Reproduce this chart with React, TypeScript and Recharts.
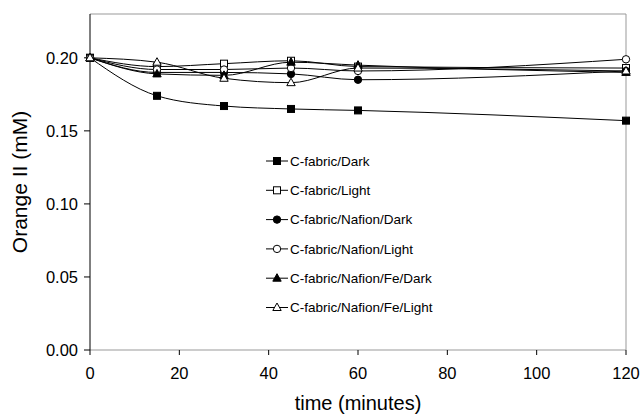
import React from "react";
import { LineChart, Line, XAxis, YAxis, ReferenceLine, Label } from "recharts";

const times = [0, 15, 30, 45, 60, 120];
const cFabricDark = [0.2, 0.174, 0.167, 0.165, 0.164, 0.157];
const cFabricLight = [0.2, 0.194, 0.196, 0.198, 0.194, 0.193];
const nafionDark = [0.2, 0.19, 0.19, 0.189, 0.185, 0.191];
const nafionLight = [0.2, 0.192, 0.192, 0.193, 0.191, 0.199];
const feDark = [0.2, 0.189, 0.188, 0.197, 0.195, 0.19];
const feLight = [0.2, 0.197, 0.186, 0.183, 0.193, 0.191];
const xTicks = [0, 20, 40, 60, 80, 100, 120];
const yTicks = [0, 0.05, 0.1, 0.15, 0.2];

const seriesNames = [
  "C-fabric/Dark",
  "C-fabric/Light",
  "C-fabric/Nafion/Dark",
  "C-fabric/Nafion/Light",
  "C-fabric/Nafion/Fe/Dark",
  "C-fabric/Nafion/Fe/Light",
];
const seriesValues = [cFabricDark, cFabricLight, nafionDark, nafionLight, feDark, feLight];
const seriesShapes = ["square", "square", "circle", "circle", "triangle", "triangle"];
const seriesFilled = [true, false, true, false, true, false];

const data = times.map((t, i) => {
  const row: any = { t };
  seriesNames.forEach((n, k) => {
    row[n] = seriesValues[k][i];
  });
  return row;
});

const FONT = "Arial, 'Liberation Sans', sans-serif";

function Marker({ cx, cy, shape, filled }: any) {
  const fill = filled ? "#000" : "#fff";
  if (shape === "square") {
    return <rect x={cx - 3.5} y={cy - 3.5} width={7} height={7} fill={fill} stroke="#000" strokeWidth={1} />;
  }
  if (shape === "circle") {
    return <circle cx={cx} cy={cy} r={3.7} fill={fill} stroke="#000" strokeWidth={1} />;
  }
  return (
    <polygon
      points={`${cx},${cy - 4.5} ${cx + 4.2},${cy + 3} ${cx - 4.2},${cy + 3}`}
      fill={fill}
      stroke="#000"
      strokeWidth={1}
    />
  );
}

const makeDot = (k: number) => (props: any) => {
  const { cx, cy, index } = props;
  if (cx == null || cy == null) return <g key={index} />;
  return (
    <g key={`${k}-${index}`}>
      <Marker cx={cx} cy={cy} shape={seriesShapes[k]} filled={seriesFilled[k]} />
    </g>
  );
};

function LegendBox() {
  const rowH = 29.3;
  return (
    <svg
      width={220}
      height={190}
      style={{ position: "absolute", left: 262, top: 150, overflow: "visible" }}
    >
      {seriesNames.map((name, k) => {
        const y = 11 + k * rowH;
        return (
          <g key={name}>
            <line x1={4} x2={26} y1={y} y2={y} stroke="#000" strokeWidth={1} />
            <Marker cx={15} cy={y} shape={seriesShapes[k]} filled={seriesFilled[k]} />
            <text x={28} y={y} dy="0.35em" fontSize={13.5} fontFamily={FONT} fill="#000">
              {name}
            </text>
          </g>
        );
      })}
    </svg>
  );
}

export default function App() {
  return (
    <div style={{ position: "absolute", left: 0, top: 0, width: 644, height: 418, background: "#fff" }}>
      <LineChart
        width={644}
        height={418}
        data={data}
        margin={{ top: 14, right: 18, bottom: 0, left: 0 }}
      >
        <XAxis
          dataKey="t"
          type="number"
          domain={[0, 120]}
          ticks={xTicks}
          height={68}
          tickSize={5}
          tickMargin={12}
          stroke="#999"
          tick={{ fill: "#000", fontSize: 16.5, fontFamily: FONT }}
          tickLine={{ stroke: "#000" }}
        >
          <Label
            value="time (minutes)"
            position="insideBottom"
            offset={8}
            style={{ fontSize: 20, fontFamily: FONT, fill: "#000" }}
          />
        </XAxis>
        <YAxis
          type="number"
          domain={[0, 0.23]}
          ticks={yTicks}
          width={90}
          tickSize={6}
          tickMargin={6}
          stroke="#000"
          tickFormatter={(v: number) => v.toFixed(2)}
          tick={{ fill: "#000", fontSize: 16.5, fontFamily: FONT }}
        >
          <Label
            value="Orange II (mM)"
            angle={-90}
            position="insideLeft"
            offset={20}
            style={{ fontSize: 21, fontFamily: FONT, fill: "#000", textAnchor: "middle" }}
          />
        </YAxis>
        <ReferenceLine y={0.23} stroke="#999" strokeWidth={1} />
        <ReferenceLine x={120} stroke="#999" strokeWidth={1} />
        {seriesNames.map((n, k) => (
          <Line
            key={n}
            dataKey={n}
            name={n}
            type="monotone"
            stroke="#000"
            strokeWidth={1}
            dot={makeDot(k)}
            activeDot={false}
            isAnimationActive={false}
          />
        ))}
      </LineChart>
      <LegendBox />
    </div>
  );
}
